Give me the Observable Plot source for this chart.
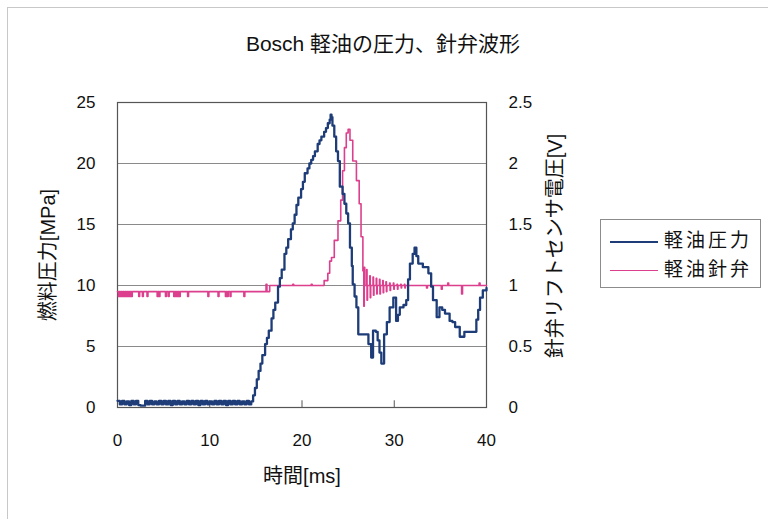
<!DOCTYPE html>
<html>
<head>
<meta charset="utf-8">
<script src="https://cdn.jsdelivr.net/npm/d3@7"></script>
<script src="https://cdn.jsdelivr.net/npm/@observablehq/plot@0.6"></script>
<style>
  html, body { margin: 0; padding: 0; background: #fff; }
  #wrap { position: relative; width: 768px; height: 519px; overflow: hidden; background: #fff;
          font-family: "Liberation Sans", Arial, "Noto Sans CJK JP", sans-serif; color: #111; }
  #border { position: absolute; left: 7px; top: 7px; width: 800px; height: 600px;
            border-left: 1px solid #c8c8c8; border-top: 1px solid #c8c8c8; }
  #title { position: absolute; left: 0; top: 27px; width: 766px; text-align: center; font-size: 21px; }
  #legend { position: absolute; left: 600px; top: 219px; width: 161px; height: 69px; box-sizing: border-box;
            border: 1px solid #8c8c8c; background: #fff; font-family: "Noto Sans CJK JP", sans-serif; font-size: 19px; }
  .item { position: absolute; left: 9px; height: 28px; line-height: 28px; white-space: nowrap; letter-spacing: 3px; }
  .item span.sw { display: inline-block; width: 48px; height: 0; vertical-align: middle; margin-right: 6px; }
</style>
</head>
<body>
<div id="wrap">
  <div id="border"></div>
  <div id="chart"></div>
  <div id="title"></div>
  <div id="legend"></div>
</div>
<script>
// ---- text ----
const chartTitle = "Bosch 軽油の圧力、針弁波形";
const xLabel = "時間[ms]";
const yLabelLeft = "燃料圧力[MPa]";
const yLabelRight = "針弁リフトセンサ電圧[V]";
const seriesNames = ["軽油圧力", "軽油針弁"];
const seriesColors = ["#1d3c78", "#dc3f8d"];

// ---- ticks ----
const xTicks = [0, 10, 20, 30, 40];
const pressureTicks = [0, 5, 10, 15, 20, 25];
const voltTicks = [0, 0.5, 1, 1.5, 2, 2.5];
const gridTicks = [5, 10, 15, 20];
const xInnerTicks = [10, 20, 30];

// ---- 軽油圧力 [MPa] ----
const pressureTime = [
  0,0.25,0.5,0.75,1,1.25,1.5,1.75,2,2.25,
  2.5,2.75,3,3.25,3.5,3.75,4,4.25,4.5,4.75,
  5,5.25,5.5,5.75,6,6.25,6.5,6.75,7,7.25,
  7.5,7.75,8,8.25,8.5,8.75,9,9.25,9.5,9.75,
  10,10.25,10.5,10.75,11,11.25,11.5,11.75,12,12.25,
  12.5,12.75,13,13.25,13.5,13.75,14,14.25,14.5,
  14.7,14.9,15.1,15.3,15.5,15.7,16.0,16.2,16.4,16.7,16.9,17.1,17.4,17.6,17.8,18.1,18.3,18.5,18.8,19.0,19.2,19.4,19.6,19.9,20.1,20.3,20.6,20.8,
  21.0,21.2,21.4,21.7,21.9,22.1,22.4,22.6,22.8,23.0,23.1,23.2,23.3,23.5,23.7,23.9,24.1,24.4,24.6,24.8,25.0,25.2,25.4,25.5,25.7,25.9,
  26.1,26.6,27.0,27.2,27.5,27.7,28.0,28.2,28.4,28.6,28.9,29.2,29.5,29.9,30.2,30.4,30.6,31.0,31.3,
  31.5,31.7,32.0,32.2,32.4,32.6,33.1,33.7,34.0,34.2,34.6,34.9,35.2,35.5,36.0,36.3,36.6,37.1,37.6,
  38.0,38.5,38.9,39.1,39.3,39.6,40.0
];
const pressureValue = [
  0.55,0.25,0.55,0.25,0.5,0.2,0.55,0.25,0.55,0.2,
  0.15,0.15,0.55,0.25,0.55,0.25,0.5,0.25,0.55,0.25,
  0.55,0.25,0.55,0.2,0.55,0.25,0.55,0.25,0.5,0.25,
  0.55,0.25,0.55,0.25,0.55,0.2,0.55,0.25,0.55,0.25,
  0.5,0.25,0.55,0.25,0.55,0.25,0.55,0.2,0.55,0.25,
  0.55,0.25,0.55,0.25,0.5,0.25,0.55,0.25,0.5,
  1.0,1.6,2.3,3.0,3.6,4.3,5.2,5.7,6.3,7.3,8.0,8.6,9.9,10.6,11.3,12.6,13.1,13.8,14.6,15.1,15.8,16.6,17.2,17.9,18.5,19.2,19.6,20.0,
  20.3,20.6,21.0,21.6,21.9,22.2,22.6,22.9,23.3,23.6,24.0,23.8,23.1,22.2,21.0,20.2,18.1,17.5,16.7,15.9,15.1,13.1,11.6,10.1,9.1,8.2,
  6.0,6.0,6.0,5.2,4.1,6.3,6.2,5.5,4.5,3.6,6.0,7.0,8.2,9.0,7.1,7.6,8.2,8.4,8.8,
  10.5,11.8,12.6,13.1,12.4,11.8,11.5,11.0,9.9,8.8,7.4,8.2,8.0,7.7,7.1,7.0,6.6,5.8,6.2,
  6.2,6.2,7.2,8.0,9.0,9.6,9.8
];

// ---- 軽油針弁 [V] ----
const needleTime = [
  0,0.1,0.2,0.3,0.4,0.5,0.6,0.7,0.8,0.9,1.0,1.1,1.2,1.3,1.4,1.5,1.6,
  2.3,2.4,2.7,2.8,3.2,3.3,4.3,4.4,4.5,4.6,5.2,5.3,5.5,5.6,6.1,6.2,6.3,6.4,6.5,6.6,6.7,6.8,
  7.6,7.7,9.8,9.9,10.9,11.0,11.7,11.8,11.9,12.0,12.2,12.3,13.7,13.8,
  16.1,16.2,16.5,19.0,19.1,21.0,21.1,22.2,
  22.4,22.8,23.0,23.2,23.5,23.9,24.2,24.4,24.6,24.8,25.0,25.2,25.5,25.9,26.2,26.4,26.6,
  26.7,26.75,26.8,27.0,27.05,27.1,27.35,27.4,27.45,27.7,27.75,27.8,28.05,28.1,28.15,
  28.4,28.45,28.5,28.75,28.8,28.85,29.1,29.15,29.2,29.5,29.55,29.6,29.9,29.95,30.0,
  30.3,30.35,30.4,30.7,30.75,30.8,31.1,31.15,31.2,
  33.5,33.6,35.1,35.2,35.8,35.9,37.3,37.4,39.2,39.3,40.0
];
const needleValue = [
  0.95,0.91,0.95,0.91,0.95,0.91,0.95,0.91,0.95,0.91,0.95,0.91,0.95,0.91,0.95,0.91,0.95,
  0.91,0.95,0.91,0.95,0.91,0.95,0.91,0.95,0.91,0.95,0.91,0.95,0.91,0.95,0.91,0.95,0.91,0.95,0.91,0.95,0.91,0.95,
  0.91,0.95,0.91,0.95,0.91,0.95,0.91,0.95,0.91,0.95,0.91,0.95,0.91,0.95,
  1.01,0.95,1.0,1.01,1.0,1.01,1.0,1.0,
  1.04,1.10,1.20,1.23,1.37,1.53,1.70,1.94,2.13,2.25,2.28,2.19,2.02,1.86,1.67,1.40,1.12,
  0.83,1.15,1.0,1.13,0.88,1.0,1.08,0.90,1.0,1.07,0.92,1.0,1.06,0.93,1.0,
  1.05,0.93,1.0,1.04,0.94,1.0,1.03,0.95,1.0,1.02,0.96,1.0,1.02,0.97,1.0,
  1.01,0.97,1.0,1.01,0.98,1.0,1.01,0.98,1.0,
  0.98,1.0,0.97,1.0,1.02,1.0,0.93,1.0,1.02,1.0,1.0
];

const pressureData = pressureTime.map((t, i) => ({t, p: pressureValue[i]}));
const needleData = needleTime.map((t, i) => ({t, v: needleValue[i]}));

const cjk = "'Liberation Sans', Arial, 'Noto Sans CJK JP', sans-serif";

const chart = Plot.plot({
  width: 768,
  height: 519,
  marginLeft: 117,
  marginRight: 282,
  marginTop: 102,
  marginBottom: 112,
  x: {domain: [0, 40]},
  y: {domain: [0, 25]},
  style: {fontFamily: cjk, fontSize: "17px", color: "#111", background: "transparent", overflow: "visible"},
  marks: [
    Plot.gridY(gridTicks, {stroke: "#8a8a8a", strokeOpacity: 1, strokeWidth: 1}),
    Plot.frame({stroke: "#555", strokeWidth: 1.2}),
    Plot.ruleX(xInnerTicks, {y1: 0, y2: 0.55, stroke: "#555"}),
    Plot.line(needleData, {x: "t", y: d => d.v * 10, curve: "step-after", stroke: seriesColors[1], strokeWidth: 1.6}),
    Plot.line(pressureData, {x: "t", y: "p", curve: "step-after", stroke: seriesColors[0], strokeWidth: 2.3}),
    Plot.axisX({ticks: xTicks, tickSize: 0, tickPadding: 26, label: null, fontSize: 17}),
    Plot.axisY({ticks: pressureTicks, tickSize: 0, tickPadding: 22, label: null, fontSize: 17}),
    Plot.axisY({anchor: "right", ticks: voltTicks.map(v => v * 10), tickFormat: d => String(d / 10),
                tickSize: 0, tickPadding: 22, label: null, fontSize: 17}),
    Plot.text([xLabel], {text: d => d, frameAnchor: "bottom", dy: 75, fontSize: 20, fontFamily: cjk}),
    Plot.text([yLabelLeft], {text: d => d, frameAnchor: "left", dx: -69, rotate: -90, textAnchor: "middle", fontSize: 20, fontFamily: cjk}),
    Plot.text([yLabelRight], {text: d => d, frameAnchor: "right", dx: 69, dy: -9, rotate: -90, textAnchor: "middle", fontSize: 20, fontFamily: cjk})
  ]
});
document.getElementById("chart").appendChild(chart);

document.getElementById("title").textContent = chartTitle;

const legend = document.getElementById("legend");
seriesNames.forEach((name, i) => {
  const item = document.createElement("div");
  item.className = "item";
  item.style.top = (5 + i * 29) + "px";
  const sw = document.createElement("span");
  sw.className = "sw";
  sw.style.borderTop = (i === 0 ? "2.3px" : "1.6px") + " solid " + seriesColors[i];
  item.appendChild(sw);
  item.appendChild(document.createTextNode(name));
  legend.appendChild(item);
});
</script>
</body>
</html>
